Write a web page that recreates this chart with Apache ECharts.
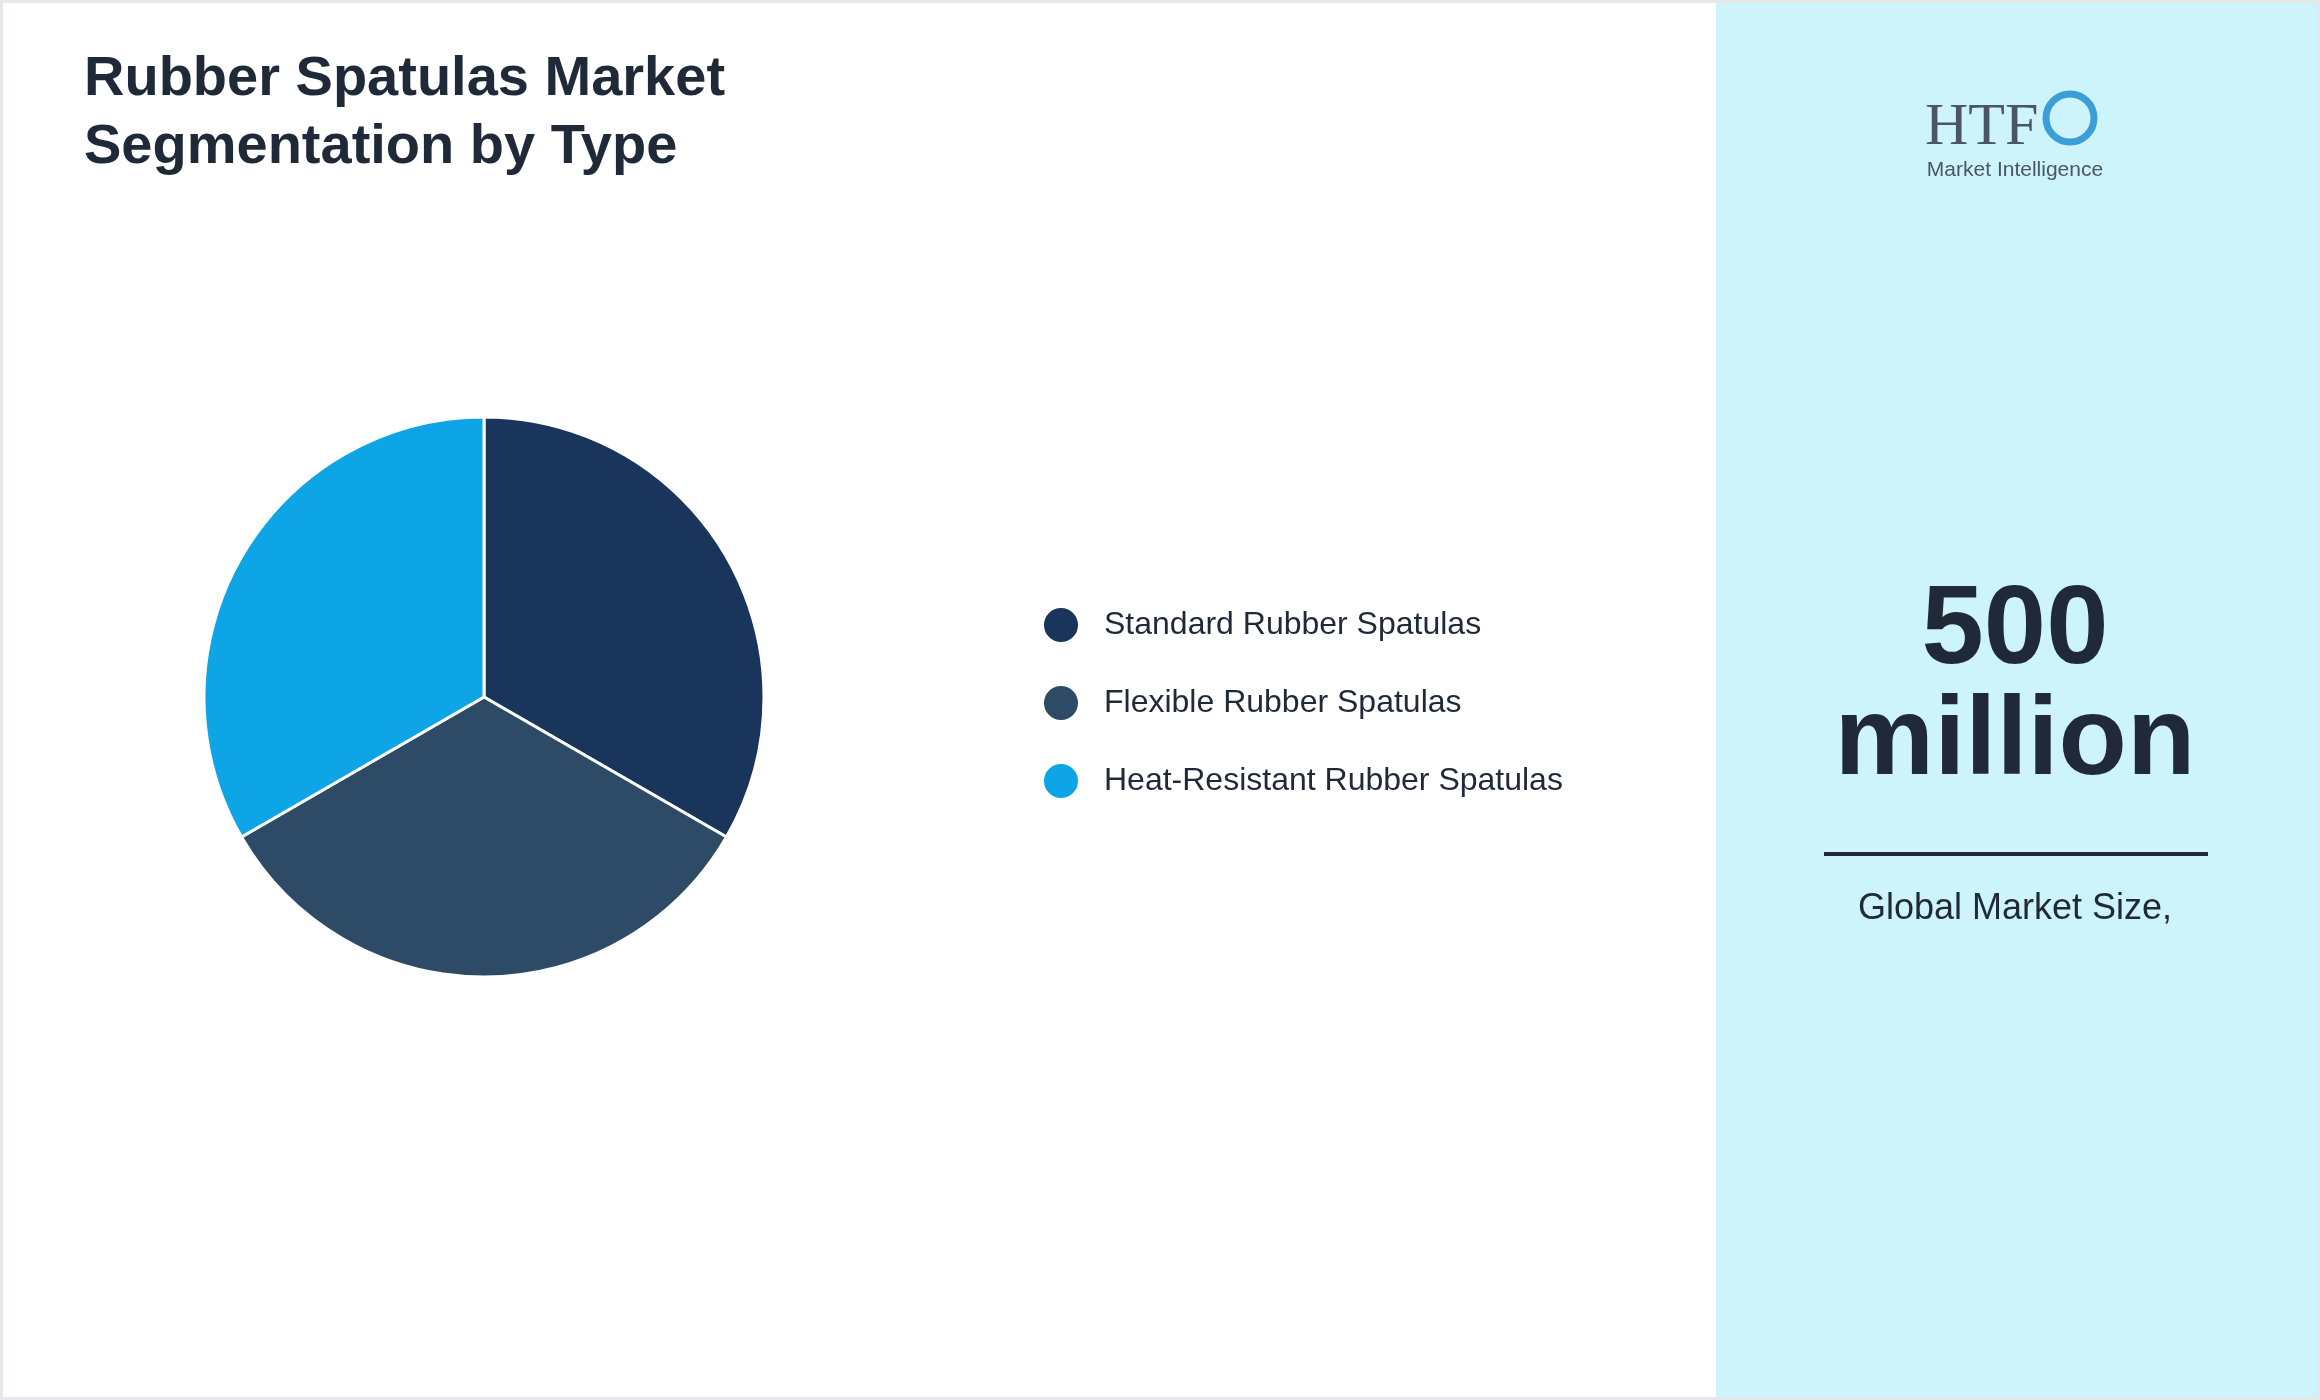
<!DOCTYPE html>
<html><head><meta charset="utf-8">
<script src="https://cdn.jsdelivr.net/npm/echarts@6/dist/echarts.min.js"></script>
<style>html,body{margin:0;padding:0;background:#fff}#c{width:2320px;height:1400px}</style>
</head><body><div id="c"></div>
<script>
const categories = ["Standard Rubber Spatulas","Flexible Rubber Spatulas","Heat-Resistant Rubber Spatulas"];
const values = [33.3,33.3,33.3];
const colors = ["#1a355b","#2d4a66","#0ea5e6"];
const titleLines = ["Rubber Spatulas Market","Segmentation by Type"];
const bigValue = ["500","million"];
const subLabel = "Global Market Size,";

const chart = echarts.init(document.getElementById('c'));
const F = 'Liberation Sans, Arial, sans-serif';
chart.setOption({
  animation:false,
  legend:{orient:'vertical',left:1037,top:601,itemWidth:36,itemHeight:36,itemGap:40,icon:'circle',
    textStyle:{fontSize:32,color:'#1f2937',fontFamily:F,padding:[0,0,0,20]},data:categories},
  series:[{type:'pie',center:[484,697],radius:[0,280],startAngle:90,clockwise:true,
    label:{show:false},labelLine:{show:false},
    itemStyle:{borderColor:'#fff',borderWidth:3},
    data:categories.map((n,i)=>({name:n,value:values[i],itemStyle:{color:colors[i]}}))}],
  graphic:[
    {type:'rect',silent:true,z:-10,shape:{x:1,y:1,width:2318,height:1398},style:{fill:'#fff',stroke:'#e5e7eb',lineWidth:4}},
    {type:'rect',silent:true,z:-9,shape:{x:1716,y:3,width:602,height:1394},style:{fill:'#cef4fb'}},
    {type:'text',left:84,top:46,style:{text:titleLines.join('\n'),font:'bold 56px '+F,fill:'#1f2937',lineHeight:68}},
    {type:'text',x:2015,y:632,style:{text:bigValue[0],font:'bold 112px '+F,fill:'#1f2937',align:'center',verticalAlign:'middle'}},
    {type:'text',x:2015,y:743,style:{text:bigValue[1],font:'bold 112px '+F,fill:'#1f2937',align:'center',verticalAlign:'middle'}},
    {type:'line',shape:{x1:1824,y1:854,x2:2208,y2:854},style:{stroke:'#1f2937',lineWidth:4}},
    {type:'text',x:2015,y:909,style:{text:subLabel,font:'36px '+F,fill:'#1f2937',align:'center',verticalAlign:'middle'}},
    {type:'text',x:1925,y:128,style:{text:'HTF',font:'60px Liberation Serif, serif',fill:'#4b5563',verticalAlign:'middle'}},
    {type:'circle',shape:{cx:2070,cy:118,r:24},style:{fill:'none',stroke:'#3b9ed8',lineWidth:7}},
    {type:'text',x:2015,y:170,style:{text:'Market Intelligence',font:'21px '+F,fill:'#4b5563',align:'center',verticalAlign:'middle'}}
  ]
});
</script></body></html>
